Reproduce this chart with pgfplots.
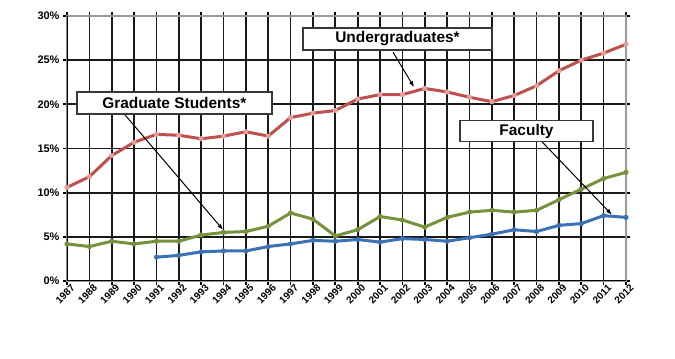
\documentclass[border=0pt]{standalone}
\usepackage{pgfplots}
\pgfplotsset{compat=1.18}
\usepackage{fontspec}
\setmainfont{Liberation Sans}
\usetikzlibrary{arrows.meta}
\definecolor{ured}{HTML}{C0504D}
\definecolor{ured2}{HTML}{E0A09C}
\definecolor{ugreen}{HTML}{76923C}
\definecolor{ublue}{HTML}{3C72B4}
\definecolor{boxgray}{HTML}{383838}
\begin{document}
\begin{tikzpicture}[x=1bp,y=1bp]
\begin{axis}[
  scale only axis, width=559bp, height=265bp,
  xmin=1987, xmax=2012, ymin=0, ymax=30,
  xtick={1987,...,2012}, ytick={0,5,...,30},
  /pgf/number format/assume math mode=true,
  xticklabel={\pgfmathprintnumber[1000 sep={}]{\tick}},
  yticklabel={\pgfmathprintnumber{\tick}\%},
  xticklabel style={rotate=45, anchor=north east, font=\bfseries\fontsize{10}{10}\selectfont, inner sep=0.5bp, xshift=4bp, yshift=-1bp},
  yticklabel style={font=\bfseries\fontsize{11}{11}\selectfont},
  tick align=outside, major tick length=4bp,
  tick style={black, line width=1.7bp},
  grid=major, grid style={black!90, line width=1.7bp},
  axis line style={gray!80, line width=1.5bp},
  every axis plot/.append style={line width=3bp},
]
\addplot[ured, mark=*, mark size=2.3bp, mark options={fill=ured2, draw=ured2, line width=0.5bp}] coordinates {
(1987,10.6)(1988,11.8)(1989,14.2)(1990,15.7)(1991,16.6)(1992,16.5)(1993,16.1)(1994,16.4)(1995,16.9)(1996,16.4)(1997,18.5)(1998,19.0)(1999,19.3)(2000,20.6)(2001,21.1)(2002,21.1)(2003,21.8)(2004,21.4)(2005,20.8)(2006,20.3)(2007,21.0)(2008,22.1)(2009,23.8)(2010,25.0)(2011,25.8)(2012,26.8)};
\addplot[ugreen, mark=*, mark size=2.3bp, mark options={fill=ugreen, line width=0.5bp}] coordinates {
(1987,4.2)(1988,3.9)(1989,4.5)(1990,4.2)(1991,4.5)(1992,4.5)(1993,5.2)(1994,5.5)(1995,5.6)(1996,6.2)(1997,7.7)(1998,7.0)(1999,5.1)(2000,5.8)(2001,7.3)(2002,6.9)(2003,6.1)(2004,7.2)(2005,7.8)(2006,8.0)(2007,7.8)(2008,8.0)(2009,9.2)(2010,10.4)(2011,11.6)(2012,12.3)};
\addplot[ublue, mark=*, mark size=2.3bp, mark options={fill=ublue, line width=0.5bp}] coordinates {
(1991,2.7)(1992,2.9)(1993,3.3)(1994,3.4)(1995,3.4)(1996,3.9)(1997,4.2)(1998,4.6)(1999,4.5)(2000,4.7)(2001,4.4)(2002,4.8)(2003,4.7)(2004,4.5)(2005,4.9)(2006,5.3)(2007,5.8)(2008,5.6)(2009,6.3)(2010,6.5)(2011,7.4)(2012,7.2)};
\draw[black, line width=1.7bp] (rel axis cs:0,1) -- (rel axis cs:0,0) -- (rel axis cs:1,0);
\draw[-{Latex[length=6bp,width=4.5bp]}, line width=1bp] (axis cs:2001.58,25.9) -- (axis cs:2002.52,21.95);
\draw[-{Latex[length=6bp,width=4.5bp]}, line width=1bp] (axis cs:1989.55,18.94) -- (axis cs:1993.98,5.8);
\draw[-{Latex[length=6bp,width=4.5bp]}, line width=1bp] (axis cs:2008.24,15.77) -- (axis cs:2011.37,7.5);
\node[draw=boxgray, line width=1.6bp, fill=white, minimum width=189bp, minimum height=22bp, inner sep=0pt, font=\bfseries\fontsize{15.5}{15.5}\selectfont] at (axis cs:2001.78,27.4) {Undergraduates*};
\node[draw=boxgray, line width=1.6bp, fill=white, minimum width=195bp, minimum height=22bp, inner sep=0pt, font=\bfseries\fontsize{15.5}{15.5}\selectfont] at (axis cs:1991.80,20.17) {Graduate Students*};
\node[draw=boxgray, line width=1.6bp, fill=white, minimum width=133bp, minimum height=21bp, inner sep=0pt, font=\bfseries\fontsize{15.5}{15.5}\selectfont] at (axis cs:2007.55,16.96) {Faculty};
\end{axis}
\pgfresetboundingbox
\path[use as bounding box] (-67bp,-78bp) rectangle (608bp,281bp);
\end{tikzpicture}
\end{document}
